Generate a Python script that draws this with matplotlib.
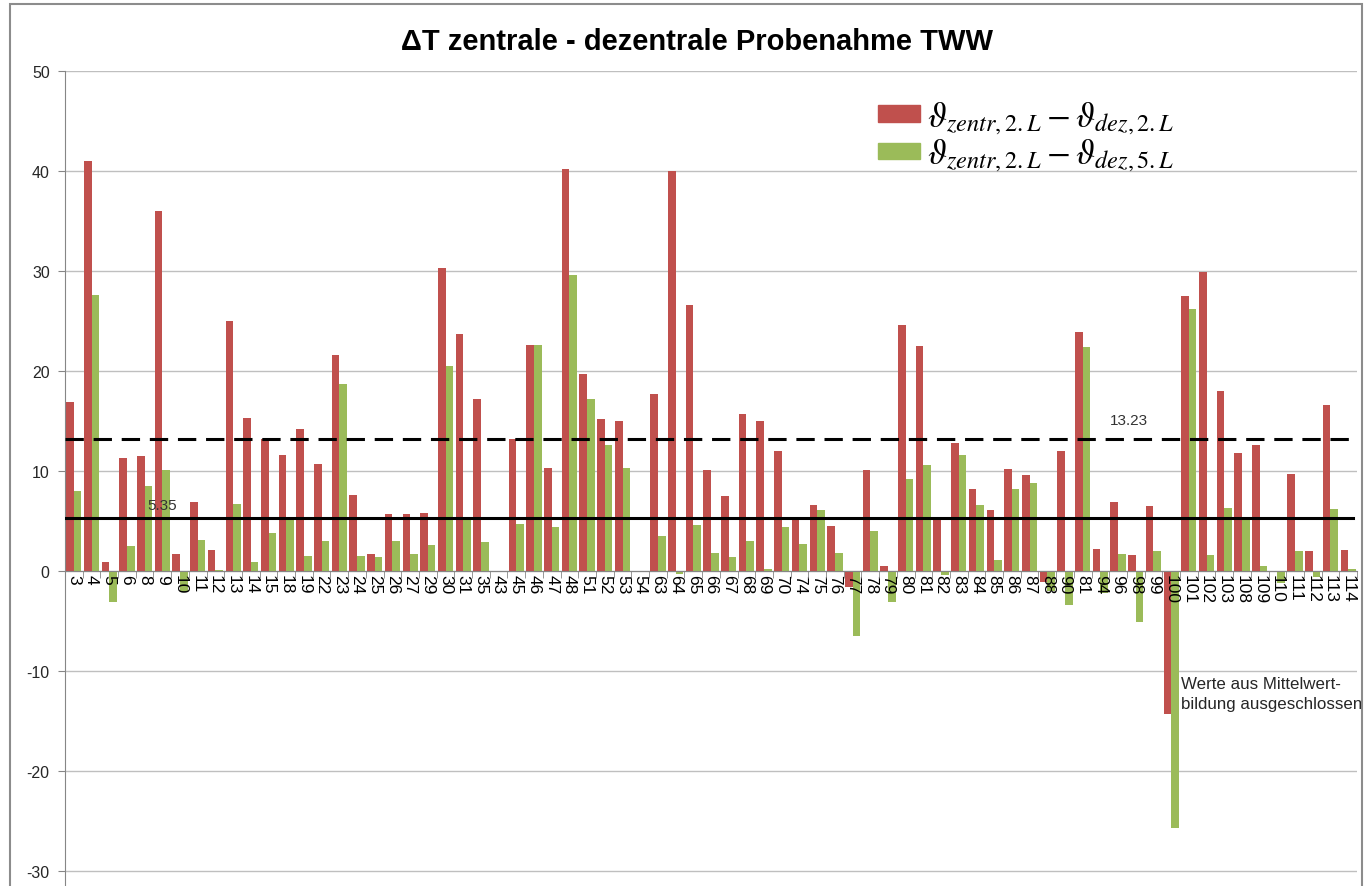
import matplotlib
matplotlib.use('Agg')
import matplotlib.pyplot as plt
import numpy as np
from matplotlib.patches import Rectangle

categories = ['3', '4', '5', '6', '8', '9', '10', '11', '12', '13',
              '14', '15', '18', '19', '22', '23', '24', '25', '26', '27',
              '29', '30', '31', '35', '43', '45', '46', '47', '48', '51',
              '52', '53', '54', '63', '64', '65', '66', '67', '68', '69',
              '70', '74', '75', '76', '77', '78', '79', '80', '81', '82',
              '83', '84', '85', '86', '87', '88', '90', '81', '94', '96',
              '98', '99', '100', '101', '102', '103', '108', '109', '110', '111',
              '112', '113', '114']

d_2L = [16.9, 41.0, 0.9, 11.3, 11.5, 36.0, 1.7, 6.9, 2.1, 25.0,
        15.3, 13.25, 11.6, 14.2, 10.7, 21.6, 7.6, 1.7, 5.7, 5.7,
        5.8, 30.3, 23.7, 17.2, 0, 13.2, 22.6, 10.3, 40.2, 19.7,
        15.2, 15.0, 0, 17.75, 40.0, 26.6, 10.1, 7.5, 15.75, 15.0,
        12.0, 5.3, 6.6, 4.5, -1.6, 10.1, 0.5, 24.6, 22.5, 5.3,
        12.8, 8.2, 6.1, 10.25, 9.6, -1.1, 12.0, 23.9, 2.25, 6.9,
        1.6, 6.5, -14.3, 27.5, 29.9, 18.0, 11.8, 12.6, 0, 9.7,
        2.0, 16.6, 2.1]

d_5L = [8.0, 27.6, -3.1, 2.5, 8.5, 10.1, -2.1, 3.1, 0.1, 6.7,
        0.9, 3.8, 5.2, 1.5, 3.0, 18.7, 1.5, 1.4, 3.0, 1.7,
        2.6, 20.5, 5.3, 2.9, 0, 4.7, 22.6, 4.4, 29.6, 17.2,
        12.6, 10.3, 0, 3.5, -0.3, 4.6, 1.8, 1.4, 3.0, 0.2,
        4.4, 2.7, 6.1, 1.8, -6.5, 4.0, -3.1, 9.2, 10.6, -0.4,
        11.6, 6.6, 1.1, 8.2, 8.8, -2.0, -3.4, 22.4, -2.2, 1.7,
        -5.1, 2.0, -25.7, 26.25, 1.6, 6.3, 5.3, 0.5, -1.2, 2.0,
        -0.6, 6.2, 0.2]

mean_2L = 13.23
mean_5L = 5.35

red = '#C0504D'
green = '#9BBB59'
font = 'Liberation Sans'
plt.rcParams['axes.unicode_minus'] = False
plt.rcParams['mathtext.fontset'] = 'stix'

fig = plt.figure(figsize=(13.66, 8.87), dpi=100)
ax = fig.add_axes([65 / 1366, 0.0, 1292 / 1366, 815 / 887])

x = np.arange(len(categories))
w = 0.43
ax.bar(x - w / 2, d_2L, width=w, color=red, zorder=2)
ax.bar(x + w / 2, d_5L, width=w, color=green, zorder=2)

# Mittelwert-Linien
ax.plot([-0.5, len(categories) - 0.7], [mean_2L, mean_2L], color='black',
        lw=2.2, ls=(0, (6, 3.2)), zorder=3)
ax.plot([-0.5, len(categories) - 0.7], [mean_5L, mean_5L], color='black',
        lw=2.2, zorder=3)
ax.text(5.0, mean_5L + 0.5, f'{mean_5L:.2f}', fontsize=11, color='#333333',
        family=font, va='bottom', ha='center', zorder=4)
ax.text(59.6, mean_2L + 1.2, f'{mean_2L:.2f}', fontsize=11, color='#333333',
        family=font, va='bottom', ha='center', zorder=4)

ax.text(62.55, -10.5, 'Werte aus Mittelwert-\nbildung ausgeschlossen',
        fontsize=12.2, color='#262626', family=font, va='top', ha='left',
        linespacing=1.45, zorder=4)

ax.set_xlim(-0.5, len(categories) - 0.5)
ax.set_ylim(-31.5, 50)
ax.set_yticks(np.arange(-30, 51, 10))
ax.set_xticks(x)
ax.set_xticklabels(categories)
ax.set_xticks(np.arange(-0.5, len(categories), 1), minor=True)
ax.tick_params(axis='x', which='major', length=0, pad=2, labelrotation=-90,
               labelsize=12.5, labelcolor='black', labelfontfamily=font)
ax.tick_params(axis='x', which='minor', length=5, color='#868686', direction='out')
ax.tick_params(axis='y', length=5, color='#868686', labelsize=11.5,
               labelcolor='#262626', pad=6, labelfontfamily=font)

ax.set_axisbelow(True)
ax.yaxis.grid(True, color='#BFBFBF', lw=1)
ax.xaxis.set_zorder(3)

ax.spines['top'].set_visible(False)
ax.spines['right'].set_visible(False)
ax.spines['left'].set_color('#868686')
ax.spines['bottom'].set_color('#868686')
ax.spines['bottom'].set_position(('data', 0))

handles = [Rectangle((0, 0), 1, 1, color=red), Rectangle((0, 0), 1, 1, color=green)]
labels = [r'$\vartheta_{zentr,2.L} - \vartheta_{dez,2.L}$',
          r'$\vartheta_{zentr,2.L} - \vartheta_{dez,5.L}$']
fig.legend(handles, labels, loc='upper left', bbox_to_anchor=(878 / 1366, 1 - 100 / 887),
           frameon=False, fontsize=25, handlelength=1.2, handleheight=0.34,
           handletextpad=0.22, labelspacing=0.0, borderpad=0, borderaxespad=0)

fig.text(697 / 1366, 1 - 42 / 887, 'ΔT zentrale - dezentrale Probenahme TWW',
         ha='center', va='center', fontsize=21, fontweight='bold', family=font)

fig.patches.append(Rectangle((10 / 1366, -0.05), 1352 / 1366, 1.05 - 5 / 887,
                             transform=fig.transFigure, fill=False,
                             edgecolor='#8C8C8C', lw=1.5))

fig.savefig('out.png', dpi=100)
